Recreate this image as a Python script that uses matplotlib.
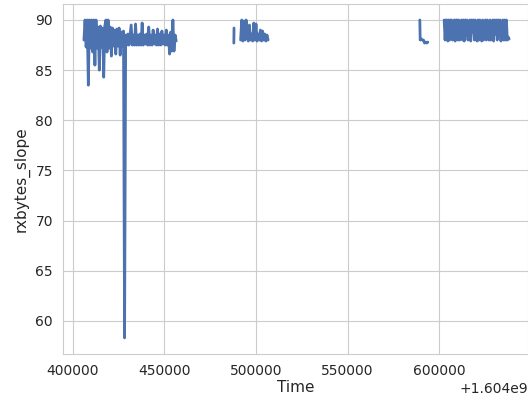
import numpy as np
import matplotlib
matplotlib.use("Agg")
import matplotlib.pyplot as plt
import seaborn as sns

BASE = 1.604e9

# Sampled rxbytes slope, one block per capture window (seconds after BASE)
seg1_start, seg1_step = 406000, 600
seg1_vals = [
    88.0, 90.0, 87.3, 90.0, 83.5, 90.0, 87.2, 90.0, 86.8, 90.0,
    85.5, 90.0, 87.2, 89.3, 85.0, 89.4, 87.3, 89.2, 84.3, 89.4,
    90.0, 86.8, 90.0, 87.2, 89.3, 86.4, 89.2, 87.4, 89.0, 86.6,
    89.1, 87.4, 89.2, 86.5, 88.8, 87.4, 88.9, 58.3, 88.5, 87.5,
    88.6, 87.5, 88.5, 89.5, 87.5, 88.5, 87.5, 89.6, 87.5, 88.5,
    87.5, 88.6, 87.5, 89.7, 87.5, 88.5, 87.6, 88.6, 87.5, 89.3,
    87.5, 88.5, 87.5, 89.0, 87.6, 88.5, 87.5, 89.1, 87.5, 88.6,
    87.5, 88.9, 87.6, 88.5, 87.5, 89.0, 87.5, 88.5, 86.6, 88.8,
    86.9, 90.0, 86.9, 88.5, 87.9,
]

seg2a_times = [487900, 488000]
seg2a_vals = [87.7, 89.2]

seg2_start, seg2_step = 491600, 600
seg2_vals = [
    88.0, 90.0, 87.9, 89.9, 88.0, 90.0, 88.6, 87.9, 89.5, 88.0,
    88.6, 87.9, 89.7, 88.0, 89.6, 87.9, 88.6, 88.0, 89.0, 87.9,
    88.9, 88.0, 88.6, 87.9, 88.5, 88.0,
]

seg3_times = [589500, 589700, 590300, 590900, 591500, 592100, 592700, 593300, 593900]
seg3_vals = [90.0, 88.0, 88.1, 88.0, 88.0, 87.7, 87.8, 87.7, 87.8]

seg4_start, seg4_step = 602800, 500
seg4_vals = [
    90.0, 88.0, 90.0, 90.0, 87.9, 90.0, 88.0, 90.0, 90.0, 88.0,
    89.5, 90.0, 87.9, 90.0, 90.0, 88.0, 90.0, 88.0, 89.0, 90.0,
    88.0, 90.0, 87.9, 90.0, 88.5, 90.0, 88.0, 89.2, 90.0, 87.9,
    90.0, 88.8, 90.0, 88.0, 90.0, 89.0, 87.9, 90.0, 88.0, 90.0,
    88.9, 87.9, 90.0, 88.0, 89.3, 90.0, 88.0, 90.0, 89.0, 88.0,
    90.0, 88.0, 89.5, 90.0, 87.9, 90.0, 88.6, 90.0, 88.0, 90.0,
    88.4, 90.0, 87.9, 89.0, 90.0, 88.0, 90.0, 88.0, 90.0, 88.0,
    88.3, 88.1,
]


def block(start, step, vals):
    t = start + step * np.arange(len(vals))
    return list(t), list(vals)


parts = [
    block(seg1_start, seg1_step, seg1_vals),
    (seg2a_times, seg2a_vals),
    block(seg2_start, seg2_step, seg2_vals),
    (seg3_times, seg3_vals),
    block(seg4_start, seg4_step, seg4_vals),
]

# Join blocks with NaN breaks so gaps between windows stay empty
times, values = [], []
for t, v in parts:
    if times:
        times.append(t[0] - 1)
        values.append(np.nan)
    times.extend(t)
    values.extend(v)
times = BASE + np.array(times, dtype=float)
values = np.array(values, dtype=float)

sns.set_style("whitegrid")
plt.rcParams["font.family"] = ["DejaVu Sans"]

fig = plt.figure(figsize=(5.28, 3.98), dpi=100)
ax = fig.add_axes([62.7 / 528, 44.2 / 398, 465.3 / 528, 349.7 / 398])
ax.plot(times, values, color="#4c72b0", linewidth=2.0)
ax.set_xlim(BASE + 394400, BASE + 648600)

ax.set_xlabel("Time", fontsize=11, labelpad=2)
ax.set_ylabel("rxbytes_slope", fontsize=11)
ax.tick_params(labelsize=10)

fig.savefig("out.png", dpi=100)
